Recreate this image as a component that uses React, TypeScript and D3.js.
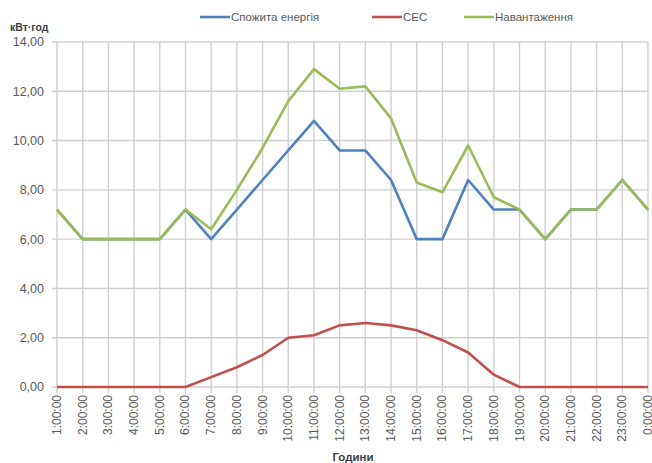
import React, { useEffect, useRef } from "react";
import * as d3 from "d3";

// Hours of the day (category axis)
const hours = [
  "1:00:00", "2:00:00", "3:00:00", "4:00:00", "5:00:00", "6:00:00",
  "7:00:00", "8:00:00", "9:00:00", "10:00:00", "11:00:00", "12:00:00",
  "13:00:00", "14:00:00", "15:00:00", "16:00:00", "17:00:00", "18:00:00",
  "19:00:00", "20:00:00", "21:00:00", "22:00:00", "23:00:00", "0:00:00",
];

// Energy consumed from the grid, kWh
const consumed = [
  7.2, 6.0, 6.0, 6.0, 6.0, 7.2, 6.0, 7.2, 8.4, 9.6, 10.8, 9.6,
  9.6, 8.4, 6.0, 6.0, 8.4, 7.2, 7.2, 6.0, 7.2, 7.2, 8.4, 7.2,
];

// Solar plant output (СЕС), kWh
const solar = [
  0, 0, 0, 0, 0, 0, 0.4, 0.8, 1.3, 2.0, 2.1, 2.5,
  2.6, 2.5, 2.3, 1.9, 1.4, 0.5, 0, 0, 0, 0, 0, 0,
];

// Total load, kWh
const load = [
  7.2, 6.0, 6.0, 6.0, 6.0, 7.2, 6.4, 8.0, 9.7, 11.6, 12.9, 12.1,
  12.2, 10.9, 8.3, 7.9, 9.8, 7.7, 7.2, 6.0, 7.2, 7.2, 8.4, 7.2,
];

const yTicks = [0, 2, 4, 6, 8, 10, 12, 14];

const seriesNames = ["Спожита енергія", "СЕС", "Навантаження"];
const seriesColors = ["#4f81bd", "#c0504d", "#9bbb59"];

const W = 652;
const H = 463;
const LEFT = 57;
const RIGHT = 648;
const TOP = 42;
const BOTTOM = 387;
const FONT = "'Liberation Sans', Arial, sans-serif";

export default function App() {
  const ref = useRef<SVGSVGElement | null>(null);

  useEffect(() => {
    const svg = d3.select(ref.current);
    svg.selectAll("*").remove();

    const x = d3.scalePoint<string>().domain(hours).range([LEFT, RIGHT]).padding(0);
    const y = d3.scaleLinear().domain([0, 14]).range([BOTTOM, TOP]);

    const grid = svg.append("g");
    // horizontal gridlines with small ticks on the left
    grid.selectAll("line.h")
      .data(yTicks)
      .join("line")
      .attr("x1", LEFT - 5)
      .attr("x2", RIGHT)
      .attr("y1", (d) => y(d))
      .attr("y2", (d) => y(d))
      .attr("stroke", "#cfcfcf")
      .attr("stroke-width", 1.4);
    // vertical gridlines at each hour, extended below the axis as ticks
    grid.selectAll("line.v")
      .data(hours)
      .join("line")
      .attr("x1", (d) => x(d)!)
      .attr("x2", (d) => x(d)!)
      .attr("y1", TOP)
      .attr("y2", BOTTOM + 6)
      .attr("stroke", "#cfcfcf")
      .attr("stroke-width", 1.4);

    // y tick labels
    svg.append("g")
      .selectAll("text")
      .data(yTicks)
      .join("text")
      .attr("x", 44)
      .attr("y", (d) => y(d))
      .attr("dy", "0.35em")
      .attr("text-anchor", "end")
      .attr("font-family", FONT)
      .attr("font-size", 12.5)
      .attr("fill", "#595959")
      .text((d) => d3.format(".2f")(d).replace(".", ","));

    // x tick labels, rotated
    svg.append("g")
      .selectAll("text")
      .data(hours)
      .join("text")
      .attr("transform", (d) => `translate(${x(d)! + 4},${BOTTOM + 8}) rotate(-90)`)
      .attr("text-anchor", "end")
      .attr("font-family", FONT)
      .attr("font-size", 12)
      .attr("fill", "#595959")
      .text((d) => d);

    // axis titles
    svg.append("text")
      .attr("x", 10)
      .attr("y", 31)
      .attr("font-family", FONT)
      .attr("font-size", 10.5)
      .attr("font-weight", "bold")
      .attr("fill", "#404040")
      .text("кВт·год");
    svg.append("text")
      .attr("x", 353)
      .attr("y", 461)
      .attr("text-anchor", "middle")
      .attr("font-family", FONT)
      .attr("font-size", 11.5)
      .attr("font-weight", "bold")
      .attr("fill", "#404040")
      .text("Години");

    const line = d3.line<number>()
      .x((_, i) => x(hours[i])!)
      .y((d) => y(d));

    const all = [consumed, solar, load];
    svg.append("g")
      .selectAll("path")
      .data(all)
      .join("path")
      .attr("d", (d) => line(d))
      .attr("fill", "none")
      .attr("stroke", (_, i) => seriesColors[i])
      .attr("stroke-width", 2.6)
      .attr("stroke-linejoin", "round");

    // legend
    const legendX = [200, 372, 464];
    const lg = svg.append("g");
    seriesNames.forEach((name, i) => {
      lg.append("line")
        .attr("x1", legendX[i])
        .attr("x2", legendX[i] + 30)
        .attr("y1", 17)
        .attr("y2", 17)
        .attr("stroke", seriesColors[i])
        .attr("stroke-width", 2.6);
      lg.append("text")
        .attr("x", legendX[i] + 31)
        .attr("y", 17)
        .attr("dy", "0.35em")
        .attr("font-family", FONT)
        .attr("font-size", 11.5)
        .attr("fill", "#595959")
        .text(name);
    });
  }, []);

  return (
    <svg
      ref={ref}
      width={W}
      height={H}
      style={{ position: "absolute", left: 0, top: 0, background: "#fff" }}
    />
  );
}
